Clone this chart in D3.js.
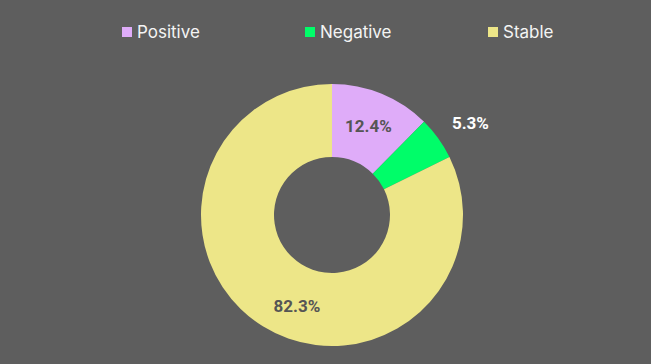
<!DOCTYPE html>
<html>
<head>
<style>
body {
  margin: 0;
  background: #5e5e5e;
  width: 651px;
  height: 364px;
  overflow: hidden;
}
svg { display: block; }
.legend text {
  font-family: Inter, "Noto Sans", sans-serif;
  font-size: 17px;
  fill: #f4f4f4;
}
.labels text {
  font-family: Roboto, "Noto Sans", sans-serif;
  font-size: 17px;
  font-weight: bold;
}
</style>
<script src="https://cdn.jsdelivr.net/npm/d3@7/dist/d3.min.js"></script>
</head>
<body>
<script>
var categories = ["Positive", "Negative", "Stable"];
var values = [12.4, 5.3, 82.3];
var colors = ["#dfacf9", "#00fd69", "#ede688"];

var width = 651, height = 364;
var cx = 332, cy = 215,
    outerR = 131, innerR = 58;

var svg = d3.select("body").append("svg")
  .attr("width", width)
  .attr("height", height);

var data = categories.map(function(c, i) { return {category: c, value: values[i]}; });

var color = d3.scaleOrdinal().domain(categories).range(colors);

// legend
var lx = d3.scalePoint().domain(categories).range([122, 488]);
var legend = svg.append("g").attr("class", "legend")
  .selectAll("g")
  .data(categories)
  .enter().append("g")
  .attr("transform", function(d) { return "translate(" + lx(d) + ",27)"; });

legend.append("rect")
  .attr("width", 10)
  .attr("height", 10)
  .attr("fill", function(d) { return color(d); });

legend.append("text")
  .attr("x", 15)
  .attr("y", 11)
  .text(function(d) { return d; });

// donut
var pie = d3.pie().sort(null).value(function(d) { return d.value; });
var arc = d3.arc().innerRadius(innerR).outerRadius(outerR);

var g = svg.append("g").attr("transform", "translate(" + cx + "," + cy + ")");

var arcs = pie(data);

g.append("g").attr("class", "slices")
  .selectAll("path")
  .data(arcs)
  .enter().append("path")
  .attr("d", arc)
  .attr("fill", function(d) { return color(d.data.category); });

// label point: small slices outside the ring, big slice pulled toward the bottom
function labelPos(d) {
  var mid = (d.startAngle + d.endAngle) / 2;
  var r = 96;
  if (d.data.value < 8) { r = outerR + 35; mid += 0.04; }
  else if (d.data.value > 50) { r = 98; mid -= 0.19; }
  return [Math.sin(mid) * r, -Math.cos(mid) * r];
}

g.append("g").attr("class", "labels")
  .selectAll("text")
  .data(arcs)
  .enter().append("text")
  .attr("text-anchor", "middle")
  .attr("dy", "0.35em")
  .attr("transform", function(d) { return "translate(" + labelPos(d) + ")"; })
  .attr("fill", function(d) { return d.data.value < 8 ? "#ffffff" : "#555555"; })
  .text(function(d) { return d.data.value.toFixed(1) + "%"; });
</script>
</body>
</html>
